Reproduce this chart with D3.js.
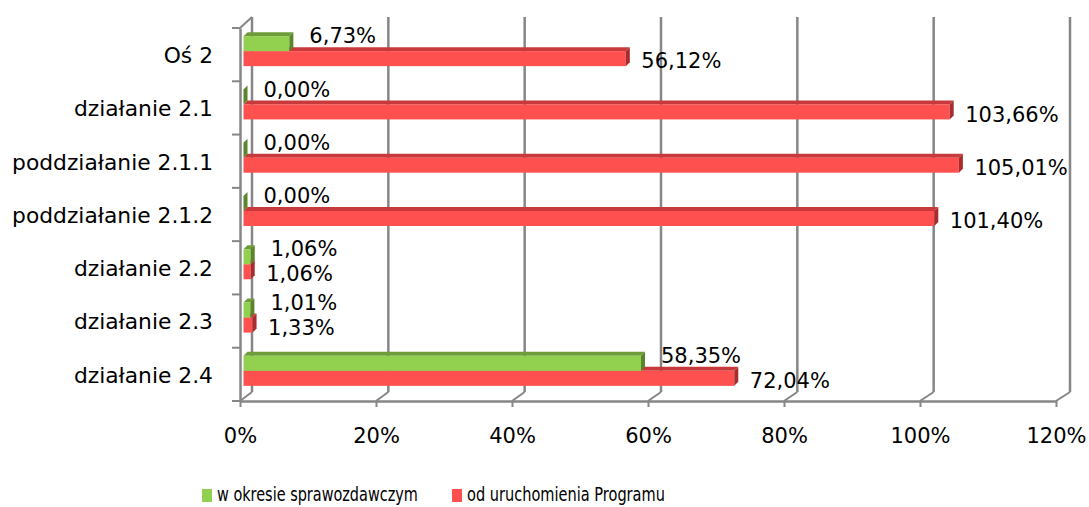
<!DOCTYPE html>
<html>
<head>
<meta charset="utf-8">
<script src="https://cdn.jsdelivr.net/npm/d3@7"></script>
<style>
  body { margin: 0; background: #fff; }
  text { font-family: "DejaVu Sans", sans-serif; fill: #000; }
</style>
</head>
<body>
<svg width="1089" height="507"></svg>
<script>
// dane z wykresu
var categories = ["Oś 2", "działanie 2.1", "poddziałanie 2.1.1", "poddziałanie 2.1.2", "działanie 2.2", "działanie 2.3", "działanie 2.4"];
var okresValues = [6.73, 0, 0, 0, 1.06, 1.01, 58.35];
var programValues = [56.12, 103.66, 105.01, 101.40, 1.06, 1.33, 72.04];
var tickValues = [0, 20, 40, 60, 80, 100, 120];
var seriesNames = ["w okresie sprawozdawczym", "od uruchomienia Programu"];

var svg = d3.select("svg");
var fontSize = 21;
var depth = { dx: 12, dy: -9 }; // glebokosc scian 3D
var barDepth = 4;               // glebokosc slupka
var barH = 15;

var xFront = d3.scaleLinear().domain([0, 120]).range([240, 1056]);
var xBack = d3.scaleLinear().domain([0, 120]).range([240 + depth.dx, 1056 + depth.dx + 2]);
var xBar = d3.scaleLinear().domain([0, 120]).range([243.5, 1061]);
var y = d3.scaleBand().domain(categories).range([28, 401]);
var floorY = 401;

var fmt = function (v) { return d3.format(".2f")(v).replace(".", ",") + "%"; };
var gridColor = "#868686";

// tylna sciana - linie siatki
svg.append("g").selectAll("line").data(tickValues).enter().append("line")
  .attr("x1", function (d) { return xBack(d); })
  .attr("x2", function (d) { return xBack(d); })
  .attr("y1", 17)
  .attr("y2", floorY + depth.dy)
  .attr("stroke", gridColor).attr("stroke-width", 2.5);

// podloga - ukosne polaczenia
svg.append("g").selectAll("line").data(tickValues).enter().append("line")
  .attr("x1", function (d) { return xBack(d); })
  .attr("y1", floorY + depth.dy)
  .attr("x2", function (d) { return xFront(d); })
  .attr("y2", floorY)
  .attr("stroke", gridColor).attr("stroke-width", 2);

// lewa sciana - gorna krawedz
svg.append("line")
  .attr("x1", xFront(0)).attr("y1", y.range()[0])
  .attr("x2", xBack(0)).attr("y2", 17)
  .attr("stroke", gridColor).attr("stroke-width", 2);

// os x
var xAxis = svg.append("g")
  .attr("transform", "translate(0," + floorY + ")")
  .call(d3.axisBottom(xFront).tickValues(tickValues).tickSize(6).tickSizeOuter(0).tickPadding(21)
    .tickFormat(function (d) { return d + "%"; }));
xAxis.select(".domain").attr("stroke", gridColor).attr("stroke-width", 2.5);
xAxis.selectAll(".tick line").attr("stroke", gridColor).attr("stroke-width", 2);
xAxis.selectAll("text").style("font-family", "DejaVu Sans").style("font-size", fontSize + "px").attr("fill", "#000");

// os y (kategorie)
var yAxis = svg.append("g")
  .attr("transform", "translate(" + xFront(0) + ",0)")
  .call(d3.axisLeft(y).tickSize(0).tickSizeOuter(0).tickPadding(27));
yAxis.select(".domain").attr("stroke", gridColor).attr("stroke-width", 2.5);
yAxis.selectAll("text").style("font-family", "DejaVu Sans").style("font-size", "21.8px").attr("fill", "#000")
  .attr("dy", "0.38em");

// kreski na granicach kategorii
var bounds = categories.map(function (c) { return y(c); }).concat([y.range()[1]]);
svg.append("g").selectAll("line").data(bounds).enter().append("line")
  .attr("x1", xFront(0) - 8).attr("x2", xFront(0))
  .attr("y1", function (d) { return d; }).attr("y2", function (d) { return d; })
  .attr("stroke", gridColor).attr("stroke-width", 2);

// slupki 3D
var series = [
  { name: seriesNames[1], values: programValues, front: "#ff5050", top: "#c8393b", side: "#a82c2e", offset: 0 },
  { name: seriesNames[0], values: okresValues, front: "#92d050", top: "#6f9c3a", side: "#5a852c", offset: -barH }
];

function groupCenter(c) { return y(c) + y.bandwidth() / 2 - 3.5; }

series.forEach(function (s) {
  var g = svg.append("g");
  var rows = categories.map(function (c, i) {
    var top = groupCenter(c) + s.offset;
    return { x0: xBar(0), x1: xBar(s.values[i]), top: top, bottom: top + barH };
  });
  // gorna sciana
  g.selectAll(".top").data(rows).enter().append("path")
    .attr("fill", s.top)
    .attr("d", function (d) {
      return "M" + d.x0 + "," + d.top + "L" + (d.x0 + barDepth) + "," + (d.top - barDepth) +
        "L" + (d.x1 + barDepth) + "," + (d.top - barDepth) + "L" + d.x1 + "," + d.top + "Z";
    });
  // przod
  g.selectAll(".front").data(rows).enter().append("rect")
    .attr("fill", s.front)
    .attr("x", function (d) { return d.x0; })
    .attr("y", function (d) { return d.top; })
    .attr("width", function (d) { return d.x1 - d.x0; })
    .attr("height", barH);
  // bok
  g.selectAll(".side").data(rows).enter().append("path")
    .attr("fill", s.side)
    .attr("d", function (d) {
      return "M" + d.x1 + "," + d.top + "L" + (d.x1 + barDepth) + "," + (d.top - barDepth) +
        "L" + (d.x1 + barDepth) + "," + (d.bottom - barDepth) + "L" + d.x1 + "," + d.bottom + "Z";
    });
});

// etykiety danych
var labels = svg.append("g").style("font-size", fontSize + "px");
labels.selectAll(".lg").data(categories).enter().append("text")
  .attr("x", function (c, i) { return xBar(okresValues[i]) + 20; })
  .attr("y", function (c) { return groupCenter(c) - barH / 2 - 8 + 7.6; })
  .text(function (c, i) { return fmt(okresValues[i]); });
labels.selectAll(".lr").data(categories).enter().append("text")
  .attr("x", function (c, i) { return xBar(programValues[i]) + 15.5; })
  .attr("y", function (c) { return groupCenter(c) + barH / 2 + 2 + 7.6; })
  .text(function (c, i) { return fmt(programValues[i]); });

// legenda (tekst scisniety w poziomie jak w oryginale)
var legend = [
  { name: seriesNames[0], color: "#92d050", x: 202, w: 201 },
  { name: seriesNames[1], color: "#ff5050", x: 452, w: 198 }
];
var lg = svg.append("g");
lg.selectAll("rect").data(legend).enter().append("rect")
  .attr("x", function (d) { return d.x; }).attr("y", 489)
  .attr("width", 10).attr("height", 13)
  .attr("fill", function (d) { return d.color; });
lg.selectAll("text").data(legend).enter().append("text")
  .attr("x", 0).attr("y", 0)
  .style("font-size", "20px")
  .text(function (d) { return d.name; })
  .attr("transform", function (d) {
    var k = d.w / this.getComputedTextLength();
    return "translate(" + (d.x + 15) + ",501) scale(" + k + ",1)";
  });
</script>
</body>
</html>
